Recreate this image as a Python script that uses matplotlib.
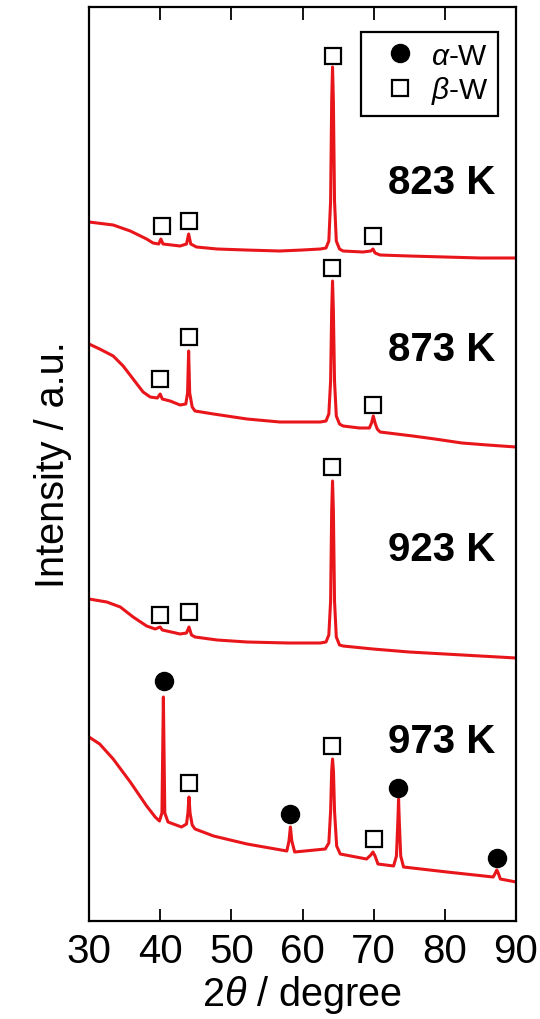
import matplotlib
matplotlib.use("Agg")
import matplotlib.pyplot as plt
from matplotlib.lines import Line2D

plt.rcParams['font.family'] = ['Liberation Sans', 'DejaVu Sans']
plt.rcParams['mathtext.fontset'] = 'custom'
plt.rcParams['mathtext.it'] = 'Liberation Sans:italic'
plt.rcParams['mathtext.rm'] = 'Liberation Sans'

# ---- data (2theta in degree, intensity in a.u., traces already offset) ----
x_823 = [30.0, 33.4, 35.8, 38.1, 39.0, 39.8, 40.1, 40.4, 42.8, 43.7, 44.0, 44.3, 45.1, 48.0, 52.0,
         56.8, 60.0, 62.5, 63.3, 63.7, 63.95, 64.1, 64.22, 64.34, 64.5, 64.75, 65.2, 65.7,
         68.5, 69.6, 69.9, 70.2, 70.9, 75.0, 80.0, 85.0, 90.0]
y_823 = [699, 696, 690, 682, 678, 677, 682, 677, 675, 677, 687, 677, 674, 672, 671,
         670, 671, 672, 673, 680, 720, 820, 854, 820, 720, 680, 672, 670,
         669, 670, 672, 668, 666, 665, 664, 663, 663]

x_873 = [30.0, 31.5, 33.4, 34.8, 36.2, 37.6, 38.6, 39.6, 40.0, 40.3, 41.4, 42.8, 43.6, 43.85,
         44.0, 44.15, 44.5, 44.9, 47.5, 52.2, 56.8, 62.5, 63.3, 63.7, 63.95, 64.1, 64.22,
         64.34, 64.5, 64.75, 65.2, 65.7, 68.0, 69.4, 69.7, 69.95, 70.2, 70.5, 70.9,
         75.5, 78.6, 82.4, 86.0, 90.0]
y_873 = [577, 572, 565, 555, 542, 529, 524, 523, 527, 522, 520, 516, 517, 528,
         570, 528, 514, 510, 507, 502, 499, 499, 500, 507, 540, 610, 640,
         610, 540, 505, 497, 495, 493, 493, 498, 505, 498, 492, 489,
         485, 482, 478, 476, 474]

x_923 = [30.0, 32.5, 34.4, 36.2, 38.1, 39.3, 40.0, 40.3, 42.8, 43.7, 44.05, 44.4, 44.9, 48.0,
         52.2, 58.0, 62.5, 63.3, 63.7, 63.95, 64.1, 64.22, 64.34, 64.5, 64.75, 65.2, 65.7,
         69.9, 75.0, 80.0, 85.0, 90.0]
y_923 = [322, 319, 314, 304, 295, 292, 294, 291, 287, 288, 294, 286, 284, 281,
         279, 278, 278, 279, 286, 320, 410, 440, 410, 320, 284, 276, 275,
         272, 269, 267, 265, 263]

x_973 = [30.0, 31.5, 33.4, 35.8, 38.1, 39.3, 39.9, 40.25, 40.45, 40.65, 41.1, 43.0, 43.7,
         43.9, 44.05, 44.2, 44.5, 44.9, 47.5, 52.2, 57.8, 58.1, 58.3, 58.5, 58.9, 63.2, 63.7,
         63.95, 64.1, 64.22, 64.35, 64.5, 64.8, 65.3, 69.0, 69.6, 69.9, 70.2, 70.6, 72.8,
         73.2, 73.4, 73.5, 73.6, 73.8, 74.2, 80.3, 86.8, 87.1, 87.3, 87.5, 87.8, 90.0]
y_973 = [184, 177, 162, 139, 115, 104, 100, 108, 224, 108, 99, 94, 97,
         108, 124, 108, 96, 92, 85, 77, 70, 80, 94, 80, 69, 72, 78,
         110, 150, 162, 150, 110, 75, 67, 62, 66, 69, 65, 57, 55,
         65, 100, 122, 100, 65, 54, 49, 44, 48, 51, 48, 42, 39]

temps = ["823 K", "873 K", "923 K", "973 K"]
label_y = [739, 572, 372, 180]

beta_x = [40.2, 44.0, 64.3, 69.9, 40.0, 44.0, 64.2, 69.95, 40.0, 44.0, 64.2, 44.0, 64.2, 70.0]
beta_y = [695, 700, 865, 685, 542, 584, 653, 516, 306, 309, 454, 138, 175, 82]
alpha_x = [40.5, 58.2, 73.4, 87.4]
alpha_y = [240, 107, 133, 63]

xticks = [30, 40, 50, 60, 70, 80, 90]

# ---- figure ----
fig = plt.figure(figsize=(5.4, 10.2), dpi=100)
ax = fig.add_axes([89/540, 98/1020, 427/540, 914/1020])

red = '#e8161b'
for xs, ys in [(x_823, y_823), (x_873, y_873), (x_923, y_923), (x_973, y_973)]:
    ax.plot(xs, ys, color=red, lw=2.2, solid_joinstyle='round', zorder=2)

ax.plot(beta_x, beta_y, ls='none', marker='s', ms=12, mfc='white', mec='black', mew=1.6, zorder=3)
ax.plot(alpha_x, alpha_y, ls='none', marker='o', ms=13, mfc='black', mec='black', zorder=3)

for t, yy in zip(temps, label_y):
    ax.text(79.6, yy, t, fontsize=29, fontweight='bold', ha='center', va='center')

ax.set_xlim(30, 90)
ax.set_ylim(0, 914)
ax.set_xticks(xticks)
ax.set_xticklabels([str(v) for v in xticks])
ax.set_yticks([])
ax.tick_params(axis='x', direction='in', top=True, length=9, width=1.3, labelsize=29, pad=8)
for s in ax.spines.values():
    s.set_linewidth(1.6)

ax.set_xlabel(r"2$\mathit{\theta}$ / degree", fontsize=28.5, labelpad=2)
ax.set_ylabel("Intensity / a.u.", fontsize=28.5, labelpad=12)

handles = [Line2D([], [], ls='none', marker='o', ms=13, mfc='black', mec='black'),
           Line2D([], [], ls='none', marker='s', ms=12, mfc='white', mec='black', mew=1.6)]
leg = ax.legend(handles, [r"$\mathit{\alpha}$-W$\ $", r"$\mathit{\beta}$-W$\ $"],
                loc='upper right', bbox_to_anchor=((498-89)/427, (922-33)/914),
                borderaxespad=0, fontsize=21.5, frameon=True, fancybox=False,
                edgecolor='black', framealpha=1, handlelength=1.95, handletextpad=0.05,
                labelspacing=0.15, borderpad=0.32)
leg.get_frame().set_linewidth(1.6)

fig.savefig("out.png", dpi=100)
